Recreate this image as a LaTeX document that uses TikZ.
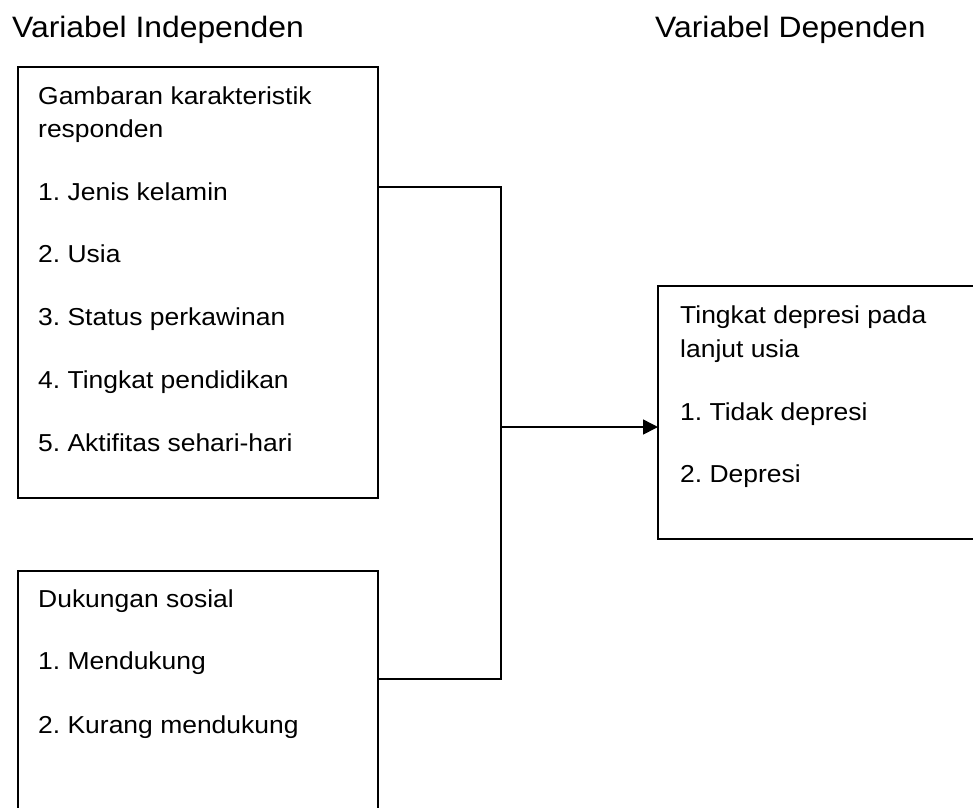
\documentclass[tikz,border=0pt]{standalone}
\usepackage{fontspec}
\setmainfont{Liberation Sans}
\usetikzlibrary{arrows.meta}
\newcommand{\wide}[1]{\scalebox{1.08}[1]{#1}}
\begin{document}
\frenchspacing
\begin{tikzpicture}[x=1pt,y=-1pt,
  box/.style={draw=black,line width=1.5pt,inner sep=0pt,outer sep=0pt},
  conn/.style={draw=black,line width=1.5pt},
  ttl/.style={anchor=base west,inner sep=0pt,font=\fontsize{29.5}{35}\selectfont},
  txt/.style={anchor=base west,inner sep=0pt,font=\fontsize{24.5}{30}\selectfont}]
\useasboundingbox (0,0) rectangle (973,807);
\clip (0,0) rectangle (973,807);
\fill[white] (0,0) rectangle (973,807);
% titles
\node[ttl] (t1) at (12,37) {\wide{Variabel Independen}};
\node[ttl] (t2) at (655,37) {\wide{Variabel Dependen}};
% boxes
\node[box,minimum width=360pt,minimum height=431pt,anchor=north west] (b1) at (18,67) {};
\node[box,minimum width=360pt,minimum height=250pt,anchor=north west] (b2) at (18,571) {};
\node[box,minimum width=330pt,minimum height=253pt,anchor=north west] (b3) at (658,286) {};
% box 1 text
\node[txt] (a1) at (38,104) {\wide{Gambaran karakteristik}};
\node[txt] (a2) at (38,137) {\wide{responden}};
\node[txt] (a3) at (38,200) {\wide{1. Jenis kelamin}};
\node[txt] (a4) at (38,262) {\wide{2. Usia}};
\node[txt] (a5) at (38,325) {\wide{3. Status perkawinan}};
\node[txt] (a6) at (38,388) {\wide{4. Tingkat pendidikan}};
\node[txt] (a7) at (38,451) {\wide{5. Aktifitas sehari-hari}};
% box 2 text
\node[txt] (c1) at (38,607) {\wide{Dukungan sosial}};
\node[txt] (c2) at (38,669) {\wide{1. Mendukung}};
\node[txt] (c3) at (38,733) {\wide{2. Kurang mendukung}};
% box 3 text
\node[txt] (d1) at (680,323) {\wide{Tingkat depresi pada}};
\node[txt] (d2) at (680,357) {\wide{lanjut usia}};
\node[txt] (d3) at (680,420) {\wide{1. Tidak depresi}};
\node[txt] (d4) at (680,482) {\wide{2. Depresi}};
% connectors
\coordinate (j1) at (501,187);
\coordinate (j2) at (501,679);
\coordinate (ja) at (501,427);
\draw[conn] (b1.east |- j1) -- (j1) -- (j2) -- (b2.east |- j2);
\draw[conn,-{Triangle[length=15pt,width=15pt]}] (ja) -- (b3.west |- ja);
\end{tikzpicture}
\end{document}
